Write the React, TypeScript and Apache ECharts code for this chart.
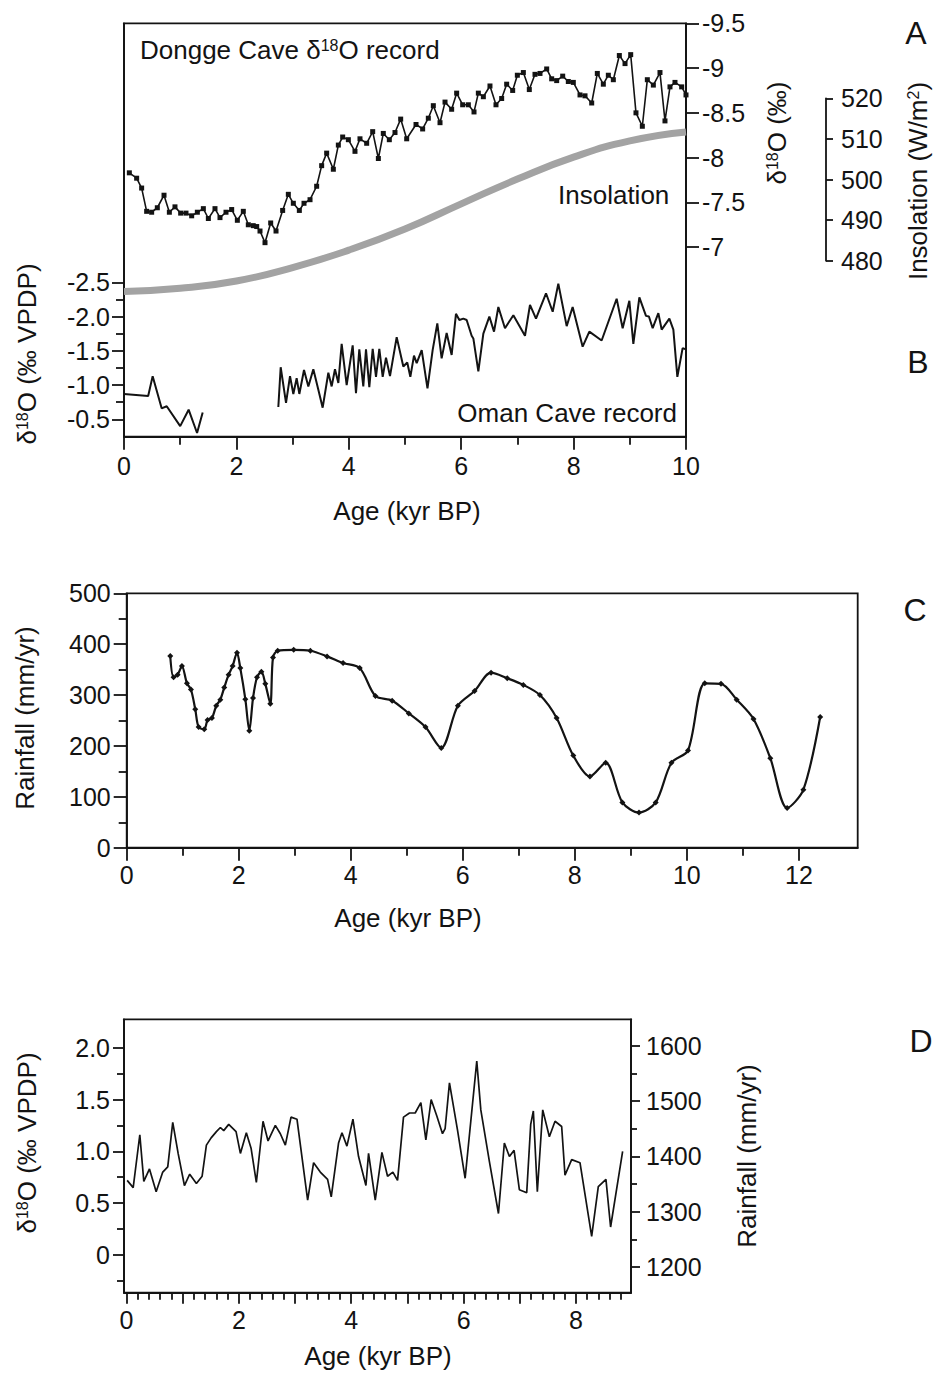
import React, { useEffect, useRef } from 'react';
import * as echarts from 'echarts';

const FONT = '"Liberation Sans", Arial, Helvetica, sans-serif';
const BLACK = '#131313';

// ---------- Panel A: Dongge Cave d18O (age kyr BP, permil) ----------
const dongge: [number, number][] = [
  [0.095, -7.83], [0.225, -7.77], [0.314, -7.66], [0.403, -7.40], [0.492, -7.39], [0.593, -7.44],
  [0.712, -7.58], [0.807, -7.39], [0.907, -7.45], [1.008, -7.38], [1.103, -7.38], [1.204, -7.35],
  [1.305, -7.39], [1.412, -7.43], [1.501, -7.32], [1.619, -7.43], [1.708, -7.33], [1.815, -7.39],
  [1.916, -7.42], [2.017, -7.30], [2.123, -7.40], [2.212, -7.25], [2.301, -7.24], [2.361, -7.23],
  [2.420, -7.18], [2.509, -7.05], [2.610, -7.27], [2.705, -7.18], [2.823, -7.41], [2.924, -7.59],
  [3.013, -7.49], [3.120, -7.41], [3.203, -7.49], [3.310, -7.53], [3.428, -7.68], [3.517, -7.91],
  [3.606, -8.05], [3.725, -7.87], [3.814, -8.14], [3.891, -8.23], [3.992, -8.20], [4.110, -8.07],
  [4.199, -8.21], [4.318, -8.16], [4.425, -8.29], [4.526, -7.99], [4.614, -8.27], [4.721, -8.20],
  [4.822, -8.28], [4.923, -8.43], [5.030, -8.21], [5.196, -8.37], [5.314, -8.32], [5.415, -8.44],
  [5.504, -8.58], [5.623, -8.39], [5.712, -8.62], [5.830, -8.54], [5.919, -8.72], [6.026, -8.59],
  [6.127, -8.59], [6.228, -8.51], [6.305, -8.72], [6.394, -8.68], [6.512, -8.80], [6.619, -8.59],
  [6.720, -8.66], [6.809, -8.82], [6.916, -8.75], [6.999, -8.92], [7.106, -8.95], [7.212, -8.76],
  [7.313, -8.93], [7.402, -8.94], [7.521, -8.99], [7.610, -8.88], [7.699, -8.86], [7.806, -8.91],
  [7.906, -8.85], [7.995, -8.84], [8.114, -8.70], [8.203, -8.69], [8.322, -8.61], [8.422, -8.94],
  [8.529, -8.82], [8.618, -8.92], [8.707, -8.87], [8.814, -9.14], [8.915, -9.05], [9.016, -9.15],
  [9.110, -8.50], [9.223, -8.35], [9.312, -8.87], [9.419, -8.81], [9.537, -8.95], [9.626, -8.41],
  [9.715, -8.79], [9.804, -8.84], [9.923, -8.79], [10.0, -8.70],
];

// Insolation (W/m2)
const insolation: [number, number][] = [
  [0, 472.4], [1, 473.2], [2, 475.0], [3, 478.3], [4, 482.6], [5, 487.8],
  [6, 494.0], [7, 500.1], [8, 505.5], [9, 509.5], [10, 511.7],
];

// ---------- Panel B: Oman Cave d18O ----------
const omanEarly: [number, number][] = [
  [0, -0.87], [0.43, -0.84], [0.51, -1.13], [0.67, -0.66], [0.76, -0.69], [1.0, -0.40],
  [1.15, -0.64], [1.30, -0.30], [1.40, -0.60],
];
const omanLate: [number, number][] = [
  [2.746, -0.68], [2.788, -1.26], [2.883, -0.74], [2.954, -1.13], [3.013, -0.87], [3.072, -1.10],
  [3.120, -0.87], [3.203, -1.22], [3.280, -0.98], [3.369, -1.23], [3.458, -0.93], [3.535, -0.67],
  [3.636, -1.18], [3.695, -0.98], [3.754, -1.23], [3.814, -1.03], [3.873, -1.60], [3.962, -1.00],
  [4.069, -1.58], [4.128, -0.88], [4.187, -1.52], [4.258, -0.98], [4.306, -1.52], [4.365, -0.97],
  [4.425, -1.53], [4.484, -1.12], [4.543, -1.53], [4.603, -1.12], [4.662, -1.40], [4.733, -1.13],
  [4.852, -1.70], [4.970, -1.27], [5.040, -1.33], [5.095, -1.12], [5.160, -1.43], [5.208, -1.32],
  [5.297, -1.51], [5.400, -0.95], [5.492, -1.51], [5.575, -1.90], [5.652, -1.39], [5.741, -1.76],
  [5.830, -1.44], [5.907, -2.04], [5.967, -1.95], [6.038, -1.97], [6.097, -1.95], [6.186, -1.72],
  [6.216, -1.68], [6.305, -1.20], [6.394, -1.75], [6.501, -2.00], [6.584, -1.78], [6.661, -2.14],
  [6.779, -1.83], [6.928, -2.02], [7.135, -1.72], [7.224, -2.17], [7.331, -1.97], [7.509, -2.34],
  [7.628, -2.07], [7.728, -2.48], [7.877, -1.86], [7.983, -2.14], [8.161, -1.56], [8.280, -1.78],
  [8.499, -1.65], [8.766, -2.26], [8.873, -1.83], [8.992, -2.23], [9.063, -1.60], [9.170, -2.28],
  [9.288, -2.01], [9.340, -2.00], [9.407, -1.83], [9.508, -2.05], [9.567, -1.81], [9.704, -1.97],
  [9.775, -1.81], [9.846, -1.12], [9.940, -1.54], [10.0, -1.52],
];

// ---------- Panel C: Rainfall (mm/yr) ----------
const rainfallC: [number, number][] = [
  [0.777, 377], [0.837, 335], [0.909, 340], [0.986, 357], [1.075, 323], [1.147, 311], [1.224, 272],
  [1.284, 237], [1.385, 233], [1.444, 251], [1.522, 255], [1.599, 279], [1.671, 291], [1.742, 315],
  [1.820, 340], [1.891, 357], [1.969, 383], [2.028, 353], [2.118, 292], [2.189, 230], [2.255, 294],
  [2.326, 335], [2.404, 346], [2.475, 322], [2.564, 283], [2.612, 374], [2.695, 387], [2.981, 389],
  [3.279, 387], [3.577, 376], [3.863, 363], [4.160, 353], [4.441, 298], [4.739, 289], [5.036, 264],
  [5.334, 237], [5.615, 196], [5.912, 279], [6.210, 308], [6.505, 344], [6.794, 333], [7.080, 320],
  [7.377, 300], [7.675, 255], [7.973, 181], [8.270, 140], [8.551, 167], [8.849, 89], [9.146, 69],
  [9.444, 89], [9.725, 167], [10.02, 191], [10.32, 323], [10.61, 322], [10.89, 291], [11.19, 253],
  [11.49, 176], [11.79, 78], [12.08, 114], [12.38, 257],
];

// ---------- Panel D: d18O (permil VPDP) ----------
const recordD: [number, number][] = [
  [0.012, 0.72], [0.119, 0.65], [0.237, 1.16], [0.308, 0.71], [0.409, 0.83], [0.528, 0.61],
  [0.645, 0.80], [0.734, 0.85], [0.823, 1.28], [0.919, 0.98], [1.031, 0.67], [1.125, 0.78],
  [1.244, 0.69], [1.346, 0.76], [1.422, 1.06], [1.506, 1.13], [1.600, 1.19], [1.671, 1.23],
  [1.730, 1.20], [1.819, 1.26], [1.950, 1.19], [2.027, 0.98], [2.133, 1.18], [2.217, 1.03],
  [2.311, 0.70], [2.430, 1.29], [2.519, 1.10], [2.649, 1.25], [2.738, 1.17], [2.827, 1.06],
  [2.928, 1.33], [3.034, 1.31], [3.224, 0.53], [3.330, 0.89], [3.449, 0.80], [3.579, 0.73],
  [3.644, 0.56], [3.774, 1.08], [3.835, 1.18], [3.923, 1.05], [4.030, 1.31], [4.130, 0.95],
  [4.261, 0.67], [4.308, 0.98], [4.427, 0.53], [4.546, 0.99], [4.646, 0.76], [4.741, 0.80],
  [4.824, 0.72], [4.930, 1.33], [5.037, 1.37], [5.138, 1.37], [5.239, 1.47], [5.328, 1.11],
  [5.422, 1.50], [5.523, 1.34], [5.624, 1.17], [5.671, 1.22], [5.748, 1.66], [5.890, 1.21],
  [6.027, 0.74], [6.234, 1.87], [6.306, 1.40], [6.459, 0.90], [6.620, 0.40], [6.725, 1.08],
  [6.815, 0.95], [6.898, 1.01], [6.992, 0.63], [7.123, 0.60], [7.194, 1.26], [7.241, 1.39],
  [7.312, 0.61], [7.408, 1.40], [7.526, 1.14], [7.627, 1.29], [7.745, 1.24], [7.804, 0.77],
  [7.923, 0.92], [8.071, 0.89], [8.279, 0.18], [8.397, 0.66], [8.533, 0.73], [8.616, 0.27],
  [8.830, 1.00],
];

// ---------- Tick values ----------
const abAgeMajor = [0, 2, 4, 6, 8, 10];
const abAgeMinor = [1, 3, 5, 7, 9];
const omanMajor = [-2.5, -2.0, -1.5, -1.0, -0.5];
const omanMinor = [-2.25, -1.75, -1.25, -0.75];
const donggeMajor = [-9.5, -9, -8.5, -8, -7.5, -7];
const cAgeMajor = [0, 2, 4, 6, 8, 10, 12];
const cAgeMinor = [1, 3, 5, 7, 9, 11];
const dAgeMajorTicks = [0, 1, 2, 3, 4, 5, 6, 7, 8, 9];
const dAgeLabels = [0, 2, 4, 6, 8];
const dAgeMinor = [
  0.2, 0.4, 0.6, 0.8, 1.2, 1.4, 1.6, 1.8, 2.2, 2.4, 2.6, 2.8, 3.2, 3.4, 3.6, 3.8,
  4.2, 4.4, 4.6, 4.8, 5.2, 5.4, 5.6, 5.8, 6.2, 6.4, 6.6, 6.8, 7.2, 7.4, 7.6, 7.8, 8.2, 8.4, 8.6, 8.8,
];
const dLeftMajor = [0, 0.5, 1.0, 1.5, 2.0];
const dLeftMinor = [-0.25, 0.25, 0.75, 1.25, 1.75];
const dRightMajor = [1200, 1300, 1400, 1500, 1600];
const dRightMinor = [1250, 1350, 1450, 1550];

const LW = 1.8;
const TICK_FS = 25;
const TITLE_FS = 26;
const axLine = { color: BLACK, width: LW };

function majorAxis(gridIndex: number, position: string, min: number, max: number, ticks: number[], labels: number[], tickLen: number, margin: number, extra: any = {}) {
  return {
    type: 'value', gridIndex, position, min, max, inverse: !!extra.inverse,
    axisLine: { show: true, onZero: false, lineStyle: axLine },
    axisTick: { show: true, inside: false, length: tickLen, customValues: ticks, lineStyle: axLine },
    axisLabel: {
      show: true, customValues: labels, margin, fontSize: TICK_FS, fontFamily: FONT, color: BLACK,
      formatter: extra.formatter || ((v: number) => String(v)),
    },
    splitLine: { show: false },
  };
}
function minorAxis(gridIndex: number, position: string, min: number, max: number, ticks: number[], tickLen: number, inverse = false) {
  return {
    type: 'value', gridIndex, position, min, max, inverse,
    axisLine: { show: false, onZero: false },
    axisTick: { show: true, inside: false, length: tickLen, customValues: ticks, lineStyle: axLine },
    axisLabel: { show: false },
    splitLine: { show: false },
  };
}

const fmt1 = (v: number) => (v === 0 ? '0' : v.toFixed(1));

function txt(x: number, y: number, text: string, size: number, opts: any = {}) {
  const align = opts.align || 'center';
  return {
    type: 'text', x, y, rotation: opts.rot || 0, z: 20,
    style: {
      text, fontSize: size, fontFamily: FONT, fill: BLACK,
      align, verticalAlign: 'middle', textAlign: align, textVerticalAlign: 'middle',
      rich: {
        sup: { fontSize: Math.round(size * 0.62), fontFamily: FONT, fill: BLACK, verticalAlign: 'top', lineHeight: size, padding: [0, 0, Math.round(size * 0.35), 0] },
      },
    },
  };
}

const R90 = Math.PI / 2;

const option: any = {
  animation: false,
  backgroundColor: '#ffffff',
  grid: [
    { left: 124, top: 23.3, width: 562, height: 413.4, show: true, borderColor: BLACK, borderWidth: LW, backgroundColor: 'transparent' },
    { left: 124, top: 98.3, width: 562, height: 162.4, show: false },
    { left: 126.7, top: 593.3, width: 731, height: 254.4, show: true, borderColor: BLACK, borderWidth: LW, backgroundColor: 'transparent' },
    { left: 124, top: 1019.3, width: 507, height: 273.4, show: true, borderColor: BLACK, borderWidth: LW, backgroundColor: 'transparent' },
  ],
  xAxis: [
    majorAxis(0, 'bottom', 0, 10, abAgeMajor, abAgeMajor, 13, 17),
    minorAxis(0, 'bottom', 0, 10, abAgeMinor, 8),
    { type: 'value', gridIndex: 1, min: 0, max: 10, show: false },
    majorAxis(2, 'bottom', 0, 13.05, cAgeMajor, cAgeMajor, 13, 15),
    minorAxis(2, 'bottom', 0, 13.05, cAgeMinor, 8),
    majorAxis(3, 'bottom', -0.0445, 8.979, dAgeMajorTicks, dAgeLabels, 11, 15),
    minorAxis(3, 'bottom', -0.0445, 8.979, dAgeMinor, 7),
  ],
  yAxis: [
    majorAxis(0, 'left', -6.281, -0.246, omanMajor, omanMajor, 12, 14, { inverse: true, formatter: fmt1 }),
    minorAxis(0, 'left', -6.281, -0.246, omanMinor, 8, true),
    majorAxis(0, 'right', -9.5, -4.883, donggeMajor, donggeMajor, 13, 16, { inverse: true }),
    {
      type: 'value', gridIndex: 1, position: 'right', offset: 140, min: 480, max: 520, interval: 10,
      axisLine: { show: true, onZero: false, lineStyle: axLine },
      axisTick: { show: true, inside: false, length: 7, lineStyle: axLine },
      axisLabel: { show: true, margin: 15, fontSize: TICK_FS, fontFamily: FONT, color: BLACK },
      splitLine: { show: false },
    },
    {
      type: 'value', gridIndex: 2, position: 'left', min: 0, max: 500, interval: 100,
      axisLine: { show: true, onZero: false, lineStyle: axLine },
      axisTick: { show: true, inside: false, length: 13, lineStyle: axLine },
      minorTick: { show: true, splitNumber: 2, length: 8, lineStyle: axLine },
      axisLabel: { show: true, margin: 16, fontSize: TICK_FS, fontFamily: FONT, color: BLACK },
      splitLine: { show: false },
      minorSplitLine: { show: false },
    },
    majorAxis(3, 'left', -0.364, 2.274, dLeftMajor, dLeftMajor, 11, 14, { formatter: fmt1 }),
    minorAxis(3, 'left', -0.364, 2.274, dLeftMinor, 7),
    majorAxis(3, 'right', 1153.5, 1648.3, dRightMajor, dRightMajor, 9, 15),
    minorAxis(3, 'right', 1153.5, 1648.3, dRightMinor, 6),
  ],
  series: [
    {
      name: 'Insolation', type: 'line', xAxisIndex: 2, yAxisIndex: 3, data: insolation, smooth: true,
      clip: false, showSymbol: false, symbol: 'none', lineStyle: { color: '#a3a3a3', width: 7 }, z: 1,
    },
    {
      name: 'Dongge Cave', type: 'line', xAxisIndex: 0, yAxisIndex: 2, data: dongge,
      symbol: 'rect', symbolSize: 5, showSymbol: true, itemStyle: { color: BLACK },
      lineStyle: { color: BLACK, width: 1.6 }, z: 3,
    },
    {
      name: 'Oman Cave early', type: 'line', xAxisIndex: 0, yAxisIndex: 0, data: omanEarly,
      symbol: 'none', lineStyle: { color: BLACK, width: 2 }, z: 3,
    },
    {
      name: 'Oman Cave late', type: 'line', xAxisIndex: 0, yAxisIndex: 0, data: omanLate,
      symbol: 'none', lineStyle: { color: BLACK, width: 2 }, z: 3,
    },
    {
      name: 'Rainfall', type: 'line', xAxisIndex: 3, yAxisIndex: 4, data: rainfallC, smooth: 0.3,
      symbol: 'diamond', symbolSize: 6, showSymbol: true, itemStyle: { color: BLACK },
      lineStyle: { color: BLACK, width: 2.2 }, z: 3,
    },
    {
      name: 'Record D', type: 'line', xAxisIndex: 5, yAxisIndex: 5, data: recordD,
      symbol: 'none', lineStyle: { color: BLACK, width: 1.7 }, z: 3,
    },
  ],
  graphic: [
    txt(140, 50, 'Dongge Cave δ{sup|18}O record', TITLE_FS, { align: 'left' }),
    txt(558, 195, 'Insolation', TITLE_FS, { align: 'left' }),
    txt(677, 413, 'Oman Cave record', TITLE_FS, { align: 'right' }),
    txt(777, 133, 'δ{sup|18}O (‰)', TITLE_FS, { rot: R90 }),
    txt(918, 181, 'Insolation (W/m{sup|2})', TITLE_FS, { rot: R90 }),
    txt(27, 354, 'δ{sup|18}O (‰ VPDP)', TITLE_FS, { rot: R90 }),
    txt(407, 511, 'Age (kyr BP)', TITLE_FS),
    txt(25, 718, 'Rainfall (mm/yr)', TITLE_FS, { rot: R90 }),
    txt(408, 918, 'Age (kyr BP)', TITLE_FS),
    txt(27, 1143, 'δ{sup|18}O (‰ VPDP)', TITLE_FS, { rot: R90 }),
    txt(747, 1156, 'Rainfall (mm/yr)', TITLE_FS, { rot: R90 }),
    txt(378, 1356, 'Age (kyr BP)', TITLE_FS),
    txt(916, 33, 'A', 32),
    txt(918, 362, 'B', 32),
    txt(915, 610, 'C', 32),
    txt(921, 1041, 'D', 32),
  ],
};

export default function App() {
  const ref = useRef<HTMLDivElement>(null);
  useEffect(() => {
    document.body.style.margin = '0';
    const chart = echarts.init(ref.current as HTMLDivElement, null, { renderer: 'svg' });
    chart.setOption(option);
    return () => chart.dispose();
  }, []);
  return (
    <div
      ref={ref}
      style={{ position: 'absolute', left: 0, top: 0, width: 935, height: 1374, background: '#fff' }}
    />
  );
}
